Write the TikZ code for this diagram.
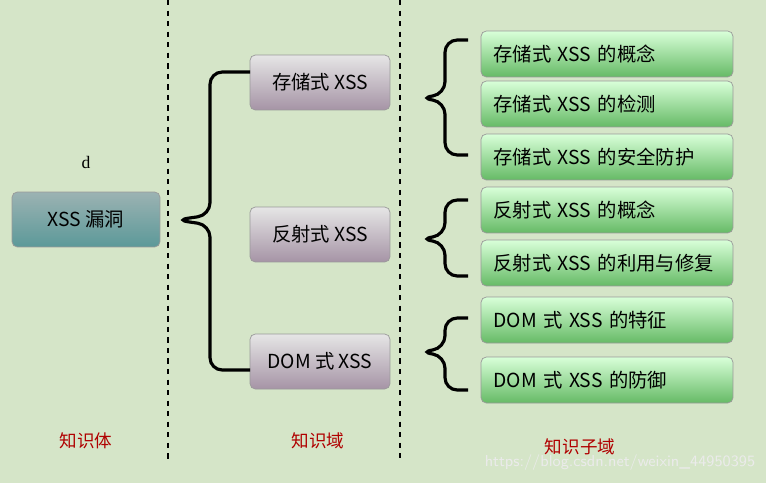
\documentclass[tikz,border=0pt]{standalone}
\usepackage{fontspec}
\setmainfont{Liberation Serif}
\newfontfamily\cjk{Noto Sans CJK SC}
\usetikzlibrary{positioning}
\definecolor{bgcol}{HTML}{D5E5C8}
\definecolor{labred}{HTML}{B00000}
\tikzset{
    base/.style={draw=black!40, rounded corners=3pt, font=\cjk\fontsize{11}{13}\selectfont},
    rootbox/.style={base, minimum width=2.96cm, minimum height=1.1cm, top color=teal!30!gray!60, bottom color=teal!60!gray!80},
    midbox/.style={base, minimum width=2.8cm, minimum height=1.1cm, top color=white!80!gray, bottom color=violet!20!gray!70},
    subbox/.style={base, minimum width=5.04cm, minimum height=0.92cm, inner xsep=0.25cm, text width=4.54cm, align=left, top color=green!15!white, bottom color=green!55!black!60},
    lab/.style={font=\cjk\fontsize{10}{12}\selectfont, text=labred},
    brc/.style={line width=1.8pt, rounded corners=7pt}
}
\begin{document}
\begin{tikzpicture}[x=0.02cm,y=-0.02cm]
    \fill[bgcol] (0,0) rectangle (766,483);
    \useasboundingbox (0,0) rectangle (766,483);
    \draw[dashed, line width=1.3pt] (168,0) -- (168,462);
    \draw[dashed, line width=1.3pt] (400,0) -- (400,458);

    \node[rootbox] (xss) at (86,219.5) {XSS 漏洞};
    \node at (86,162) {d};

    \node[midbox] (stored) at (320,82.5) {存储式 XSS};
    \node[midbox] (reflect) at (320,234.5) {反射式 XSS};
    \node[midbox] (dom) at (320,361.5) {DOM 式 XSS};

    \node[subbox] (s1) at (607,54) {存储式 XSS 的概念};
    \node[subbox] (s2) at (607,104) {存储式 XSS 的检测};
    \node[subbox] (s3) at (607,157) {存储式 XSS 的安全防护};
    \node[subbox] (r1) at (607,210) {反射式 XSS 的概念};
    \node[subbox] (r2) at (607,263) {反射式 XSS 的利用与修复};
    \node[subbox] (d1) at (607,320) {DOM 式 XSS 的特征};
    \node[subbox] (d2) at (607,380) {DOM 式 XSS 的防御};

    % braces
    \draw[brc] (250,72) -- (210,72) -- (210,215) -- (176,220) -- (210,225) -- (210,370) -- (250,370);
    \draw[brc] (468,40) -- (445,40) -- (445,94) -- (420,98) -- (445,102) -- (445,155) -- (468,155);
    \draw[brc] (468,200) -- (445,200) -- (445,235) -- (420,239) -- (445,243) -- (445,276) -- (468,276);
    \draw[brc] (468,318) -- (445,318) -- (445,348) -- (420,352) -- (445,356) -- (445,390) -- (468,390);

    \node[lab] at (86,441) {知识体};
    \node[lab] at (318,441) {知识域};
    \node[lab] at (580,447) {知识子域};
    \node[text=white!92!black, font=\sffamily\fontsize{9}{11}\selectfont] at (620,463) {https://blog.csdn.net/weixin\_44950395};
\end{tikzpicture}
\end{document}
